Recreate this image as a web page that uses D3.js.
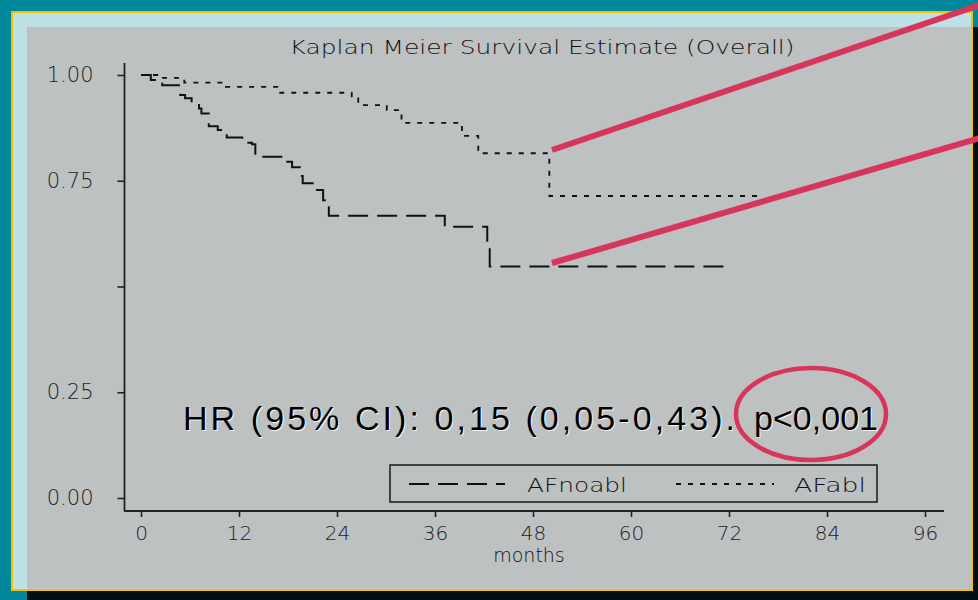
<!DOCTYPE html>
<html>
<head>
<meta charset="utf-8">
<script src="https://cdn.jsdelivr.net/npm/d3@7"></script>
<style>
  html, body { margin: 0; padding: 0; background: #00879A; }
  svg { display: block; }
</style>
</head>
<body>
<svg id="chart" width="978" height="600"></svg>
<script>
// Kaplan-Meier overall survival, AF patients with and without ablation
const titleText = "Kaplan Meier Survival Estimate (Overall)";
const xTicks = [0, 12, 24, 36, 48, 60, 72, 84, 96];
const yTicks = [0, 0.25, 0.5, 0.75, 1];
const yTickLabels = ["0.00", "0.25", "", "0.75", "1.00"];
const xLabel = "months";
const seriesNames = ["AFnoabl", "AFabl"];

// event times (months) and survival estimate after each event
const noablMonths = [0, 1.2, 2.6, 4.8, 5.4, 6.2, 7.1, 7.4, 8.3, 9.4, 10.5, 12.4, 13.6, 14.0,
                     17.6, 18.5, 19.7, 19.8, 21.4, 22.3, 22.7, 23.0, 37.2, 42.4, 42.7, 72.1];
const noablSurv   = [1, 0.988, 0.976, 0.953, 0.945, 0.935, 0.921, 0.909, 0.879, 0.870, 0.852, 0.840, 0.836, 0.807,
                     0.795, 0.782, 0.761, 0.744, 0.728, 0.704, 0.695, 0.667, 0.641, 0.598, 0.547, 0.547];
const ablMonths = [0, 2.0, 5.3, 10.4, 16.7, 25.8, 26.6, 30.1, 31.9, 39.3, 41.3, 50.0, 75.8];
const ablSurv   = [1, 0.993, 0.982, 0.972, 0.958, 0.945, 0.929, 0.917, 0.887, 0.856, 0.815, 0.714, 0.714];

const hrText = "HR (95% CI): 0,15 (0,05-0,43).";
const pText = "p<0,001";

const svg = d3.select("#chart");
const ink = "#222";
const red = "#D7355A";
const chartFont = "'DejaVu Sans', sans-serif";
const chartWeight = 200;

// slide frame
svg.append("rect").attr("x", 0).attr("y", 0).attr("width", 978).attr("height", 600).attr("fill", "#00879A");
svg.append("rect").attr("x", 27).attr("y", 591).attr("width", 951).attr("height", 9).attr("fill", "#030F13");
svg.append("rect").attr("x", 973).attr("y", 27).attr("width", 5).attr("height", 573).attr("fill", "#030F13");
svg.append("rect").attr("x", 11).attr("y", 11).attr("width", 962).attr("height", 580).attr("fill", "#F2C200");
svg.append("rect").attr("x", 13).attr("y", 13).attr("width", 958).attr("height", 576).attr("fill", "#BDE0E5");
svg.append("rect").attr("x", 27).attr("y", 27).attr("width", 944).attr("height", 562).attr("fill", "#BEC1C2");

// scales
const x = d3.scaleLinear().domain([0, 96]).range([141, 925]);
const y = d3.scaleLinear().domain([0, 1]).range([498, 75]);

// title
svg.append("text")
  .attr("x", 542).attr("y", 54)
  .attr("text-anchor", "middle")
  .attr("font-family", chartFont).attr("font-weight", chartWeight).attr("font-size", 20)
  .attr("textLength", 505).attr("lengthAdjust", "spacingAndGlyphs")
  .attr("fill", "#111")
  .text(titleText);

// y axis
const yAxis = d3.axisLeft(y).tickValues(yTicks).tickSize(7).tickPadding(24)
  .tickFormat((d, i) => yTickLabels[i]);
const gy = svg.append("g").attr("transform", "translate(124.5,0)").call(yAxis);
gy.select(".domain").attr("d", "M0,63V511").attr("stroke", ink).attr("stroke-width", 1.8);
gy.selectAll(".tick line").attr("stroke", ink).attr("stroke-width", 1.6);
gy.selectAll(".tick text").attr("font-family", chartFont).attr("font-weight", chartWeight)
  .attr("font-size", 21).attr("fill", "#222");

// x axis
const xAxis = d3.axisBottom(x).tickValues(xTicks).tickSize(6).tickPadding(9);
const gx = svg.append("g").attr("transform", "translate(0,511)").call(xAxis);
gx.select(".domain").attr("d", "M124,0H944").attr("stroke", ink).attr("stroke-width", 1.8);
gx.selectAll(".tick line").attr("stroke", ink).attr("stroke-width", 1.6);
gx.selectAll(".tick text").attr("font-family", chartFont).attr("font-weight", chartWeight)
  .attr("font-size", 20).attr("fill", "#222");

svg.append("text")
  .attr("x", 529).attr("y", 562)
  .attr("text-anchor", "middle")
  .attr("font-family", chartFont).attr("font-weight", chartWeight).attr("font-size", 19)
  .attr("fill", "#111")
  .text(xLabel);

// survival curves
const step = d3.line().x(d => x(d[0])).y(d => y(d[1])).curve(d3.curveStepAfter);
const noabl = noablMonths.map((t, i) => [t, noablSurv[i]]);
const abl = ablMonths.map((t, i) => [t, ablSurv[i]]);

svg.append("path").datum(noabl)
  .attr("d", step).attr("fill", "none")
  .attr("stroke", "#111").attr("stroke-width", 2)
  .attr("stroke-dasharray", "20,9");
svg.append("path").datum(abl)
  .attr("d", step).attr("fill", "none")
  .attr("stroke", "#111").attr("stroke-width", 1.8)
  .attr("stroke-dasharray", "5,7");

// legend
const lg = svg.append("g");
lg.append("rect").attr("x", 390).attr("y", 465).attr("width", 487).attr("height", 37)
  .attr("fill", "none").attr("stroke", ink).attr("stroke-width", 1.6);
lg.append("line").attr("x1", 409).attr("x2", 505).attr("y1", 484).attr("y2", 484)
  .attr("stroke", "#111").attr("stroke-width", 2).attr("stroke-dasharray", "20,9");
lg.append("text").attr("x", 527).attr("y", 492)
  .attr("font-family", chartFont).attr("font-weight", chartWeight).attr("font-size", 20).attr("fill", "#111")
  .attr("textLength", 100).attr("lengthAdjust", "spacingAndGlyphs")
  .text(seriesNames[0]);
lg.append("line").attr("x1", 676).attr("x2", 774).attr("y1", 484).attr("y2", 484)
  .attr("stroke", "#111").attr("stroke-width", 1.8).attr("stroke-dasharray", "5,7");
lg.append("text").attr("x", 794).attr("y", 492)
  .attr("font-family", chartFont).attr("font-weight", chartWeight).attr("font-size", 20).attr("fill", "#111")
  .attr("textLength", 72).attr("lengthAdjust", "spacingAndGlyphs")
  .text(seriesNames[1]);

// hazard ratio annotation with a light drop edge
const hr = svg.append("g").attr("font-family", "'Liberation Sans', Arial, sans-serif").attr("font-size", 34);
[[1, 1, "#f4f4f4"], [0, 0, "#000"]].forEach(([dx, dy, col]) => {
  hr.append("text").attr("x", 183 + dx).attr("y", 430 + dy).attr("fill", col)
    .attr("textLength", 552).attr("lengthAdjust", "spacing").text(hrText);
  hr.append("text").attr("x", 754 + dx).attr("y", 430 + dy).attr("fill", col)
    .attr("textLength", 124).attr("lengthAdjust", "spacing").text(pText);
});

// highlight marks
svg.append("ellipse").attr("cx", 811).attr("cy", 414).attr("rx", 75).attr("ry", 46)
  .attr("fill", "none").attr("stroke", red).attr("stroke-width", 4.5);
svg.append("line").attr("x1", 552).attr("y1", 150).attr("x2", 980).attr("y2", 5)
  .attr("stroke", red).attr("stroke-width", 6);
svg.append("line").attr("x1", 552).attr("y1", 263).attr("x2", 980).attr("y2", 138)
  .attr("stroke", red).attr("stroke-width", 6);
</script>
</body>
</html>
